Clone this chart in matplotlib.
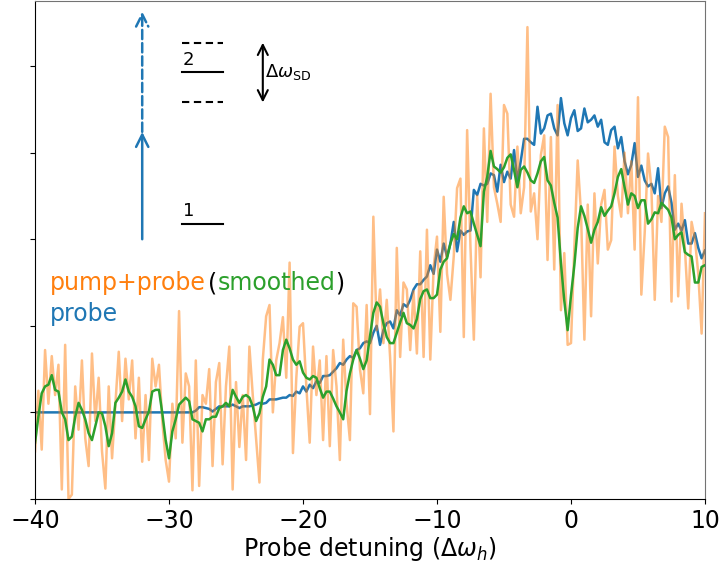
import numpy as np
import matplotlib
matplotlib.use("Agg")
import matplotlib.pyplot as plt

# probe detuning grid (units of the homogeneous width)
detuning = np.linspace(-40, 10, 201)

probe = [
    0.00, 0.00, 0.00, 0.00, 0.00, 0.00, 0.00, 0.00, 0.00, 0.00,
    0.00, 0.00, 0.00, 0.00, 0.00, 0.00, 0.00, 0.00, 0.00, 0.00,
    0.00, 0.00, 0.00, 0.00, 0.00, 0.00, 0.00, 0.00, 0.00, 0.00,
    0.00, 0.00, 0.00, 0.00, 0.00, 0.00, 0.00, 0.00, 0.00, 0.00,
    0.00, 0.00, 0.00, 0.00, 0.00, 0.00, 0.00, 0.00, 0.02, 0.06,
    0.06, 0.05, 0.04, 0.01, 0.04, 0.07, 0.07, 0.07, 0.07, 0.09,
    0.07, 0.05, 0.07, 0.07, 0.07, 0.08, 0.09, 0.11, 0.10, 0.11,
    0.15, 0.15, 0.15, 0.16, 0.17, 0.17, 0.20, 0.19, 0.24, 0.22,
    0.30, 0.24, 0.32, 0.28, 0.36, 0.34, 0.42, 0.42, 0.43, 0.47,
    0.51, 0.57, 0.55, 0.61, 0.65, 0.63, 0.72, 0.74, 0.80, 0.82,
    0.80, 0.92, 1.00, 0.78, 0.95, 1.03, 1.05, 0.97, 1.18, 1.12,
    1.25, 1.22, 1.30, 1.42, 1.48, 1.48, 1.53, 1.57, 1.70, 1.60,
    1.88, 1.74, 1.95, 1.80, 1.95, 2.20, 1.86, 2.10, 2.05, 2.09,
    2.10, 2.57, 2.51, 2.64, 2.62, 2.64, 2.76, 2.74, 2.55, 2.86,
    2.66, 2.78, 2.70, 3.03, 2.68, 2.90, 3.16, 3.16, 3.12, 3.09,
    3.53, 3.22, 3.28, 3.43, 3.45, 3.28, 3.20, 3.63, 3.34, 3.20,
    3.40, 3.49, 3.25, 3.28, 3.51, 3.35, 3.38, 3.43, 3.30, 3.38,
    3.12, 3.09, 3.26, 3.30, 3.05, 3.18, 2.90, 2.75, 2.86, 3.11,
    2.72, 2.85, 2.68, 2.61, 2.64, 2.53, 2.82, 2.36, 2.53, 2.61,
    2.42, 2.11, 2.18, 2.10, 2.22, 1.95, 1.95, 2.07, 1.90, 1.78,
    1.87,
]

pump_probe = [
    -0.45, 0.25, -0.43, 0.72, 0.10, 0.65, 0.20, 0.55, -0.89, 0.78,
    -1.00, -0.95, 0.30, -0.20, 0.60, -0.30, -0.62, 0.68, -0.10, 0.40,
    -0.45, -0.88, 0.30, -0.53, 0.10, 0.70, -0.10, 0.62, 0.15, 0.60,
    -0.30, 0.40, -0.57, 0.20, -0.55, 0.62, 0.30, 0.55, -0.10, -0.55,
    -0.80, 0.10, -0.30, 1.17, -0.35, 0.45, 0.30, -0.90, 0.60, -0.85,
    0.20, 0.10, 0.50, -0.62, 0.35, 0.57, -0.60, 0.30, 0.76, -0.89,
    0.35, -0.40, 0.20, -0.55, 0.76, 0.20, -0.30, -0.81, 0.61, 1.11,
    1.24, 0.00, 0.60, 0.80, 1.10, 0.40, 1.73, -0.47, 0.40, 0.99,
    1.03, 0.30, -0.35, 0.76, 0.20, 0.60, -0.32, 0.65, -0.39, 0.72,
    0.30, -0.55, 0.84, 0.10, -0.32, 1.26, 1.22, 0.50, 0.22, 1.24,
    -0.02, 2.26, 0.95, 1.42, 0.80, 1.30, 0.64, -0.22, 1.90, 0.64,
    1.50, 1.42, 0.72, 1.40, 0.68, 1.86, 0.64, 2.11, 0.61, 1.68,
    2.03, 0.93, 2.49, 1.60, 1.30, 1.80, 2.59, 2.70, 0.87, 3.26,
    1.90, 0.84, 2.50, 1.56, 3.28, 2.20, 3.68, 2.60, 2.41, 2.20,
    3.55, 3.45, 2.40, 2.26, 3.07, 2.30, 2.60, 4.45, 2.32, 2.53,
    2.00, 2.97, 3.20, 1.76, 3.18, 1.65, 3.55, 1.18, 1.84, 0.78,
    0.80, 1.90, 2.91, 2.30, 0.84, 2.40, 1.11, 2.53, 1.72, 2.40,
    2.57, 1.88, 1.99, 3.07, 2.50, 2.26, 3.00, 2.30, 2.90, 1.88,
    3.64, 1.36, 2.07, 2.99, 2.60, 1.30, 2.50, 2.20, 3.30, 3.18,
    1.28, 2.74, 1.34, 2.41, 1.90, 1.20, 2.20, 2.00, 1.60, 0.91,
    2.30,
]

smoothed = [
    -0.35, -0.05, 0.22, 0.30, 0.32, 0.43, 0.26, 0.24, 0.00, -0.08,
    -0.32, -0.28, -0.05, 0.11, 0.03, -0.08, -0.24, -0.32, -0.16, 0.00,
    -0.01, -0.16, -0.39, -0.24, 0.11, 0.17, 0.24, 0.38, 0.24, 0.18,
    0.07, -0.16, -0.18, -0.08, 0.01, 0.24, 0.26, 0.26, -0.01, -0.32,
    -0.53, -0.22, -0.08, 0.09, 0.13, 0.17, 0.13, -0.08, -0.10, -0.12,
    -0.22, -0.08, -0.08, -0.05, -0.05, 0.05, 0.07, 0.11, 0.07, 0.26,
    0.18, 0.11, 0.18, 0.20, 0.17, 0.07, -0.10, -0.01, 0.18, 0.30,
    0.61, 0.55, 0.43, 0.43, 0.72, 0.84, 0.74, 0.61, 0.55, 0.59,
    0.46, 0.40, 0.38, 0.42, 0.40, 0.28, 0.17, 0.24, 0.24, 0.16,
    0.07, 0.00, -0.08, 0.25, 0.45, 0.61, 0.72, 0.62, 0.50, 0.60,
    0.88, 1.15, 1.27, 1.22, 1.03, 0.87, 0.80, 0.80, 0.92, 1.04,
    1.15, 1.03, 1.01, 0.97, 1.08, 1.31, 1.40, 1.42, 1.32, 1.32,
    1.36, 1.65, 1.74, 1.78, 1.95, 2.06, 2.00, 2.25, 2.38, 2.30,
    2.32, 2.18, 2.05, 1.92, 2.55, 2.72, 3.02, 2.84, 2.81, 2.77,
    2.83, 2.94, 2.98, 2.80, 2.60, 2.80, 2.84, 2.77, 2.68, 2.65,
    2.76, 2.90, 2.95, 2.68, 2.62, 2.42, 2.25, 1.72, 1.29, 0.95,
    1.35, 1.70, 2.13, 2.38, 2.27, 2.12, 1.96, 2.11, 2.20, 2.37,
    2.27, 2.33, 2.38, 2.53, 2.72, 2.81, 2.60, 2.40, 2.53, 2.50,
    2.36, 2.45, 2.45, 2.18, 2.23, 2.31, 2.30, 2.42, 2.38, 2.34,
    2.25, 2.00, 2.05, 2.08, 1.85, 1.82, 1.80, 1.50, 1.50, 1.68,
    1.70,
]

# level scheme inset (data coords)
arrow_x = -32.0
arrow_y = [2.0, 3.24, 4.63]       # start, solid end, dashed end
level_x = [-29.05, -25.95]
level_y = {"1": 2.18, "2": 3.93}
sideband_y = [4.27, 3.58]
split_x = -23.0

fig = plt.figure(figsize=(7.19, 5.67), dpi=100)
ax = fig.add_axes([0.0487, 0.12, 0.9318, 0.878])

ax.plot(detuning, probe, color="#1f77b4", lw=1.8)
ax.plot(detuning, pump_probe, color="#ff7f0e", lw=1.8, alpha=0.5)
ax.plot(detuning, smoothed, color="#2ca02c", lw=1.8)

ax.set_xlim(-40, 10)
ax.set_ylim(-1, 4.75)
ax.set_yticks([-1, 0, 1, 2, 3, 4])
ax.set_yticklabels([])
ax.set_xticks([-40, -30, -20, -10, 0, 10])
ax.tick_params(axis="x", labelsize=17)
ax.set_xlabel(r"Probe detuning ($\Delta\omega_h$)", fontsize=17, labelpad=2)
for side in ["top", "right"]:
    ax.spines[side].set_color("0.45")

# transitions
ax.annotate("", xy=(arrow_x, arrow_y[1]), xytext=(arrow_x, arrow_y[0]),
            arrowprops=dict(arrowstyle="->", color="#1f77b4", lw=1.8,
                            mutation_scale=22, shrinkA=0, shrinkB=0))
ax.annotate("", xy=(arrow_x, arrow_y[2]), xytext=(arrow_x, arrow_y[1]),
            arrowprops=dict(arrowstyle="->", color="#1f77b4", lw=1.8,
                            linestyle="--", mutation_scale=22,
                            shrinkA=0, shrinkB=0))

for name, yv in level_y.items():
    ax.plot(level_x, [yv, yv], color="black", lw=1.5)
    ax.text(level_x[0] + 0.1, yv + 0.04, name, fontsize=13, va="bottom")
for yv in sideband_y:
    ax.plot(level_x, [yv, yv], color="black", lw=1.5, ls=(0, (3.5, 2.2)))

ax.annotate("", xy=(split_x, sideband_y[0]), xytext=(split_x, sideband_y[1]),
            arrowprops=dict(arrowstyle="<->", color="black", lw=1.5,
                            mutation_scale=18, shrinkA=0, shrinkB=0))
ax.text(split_x + 0.15, level_y["2"], r"$\Delta\omega_{\rm SD}$",
        fontsize=13, va="center")

# legend made of coloured words
t1 = ax.text(-38.9, 1.41, "pump+probe", color="#ff7f0e", fontsize=17)
t2 = ax.annotate("(", xy=(1, 0), xycoords=t1, xytext=(2, 0),
                 textcoords="offset points", va="bottom", fontsize=17)
t3 = ax.annotate("smoothed", xy=(1, 0), xycoords=t2, va="bottom",
                 color="#2ca02c", fontsize=17)
ax.annotate(")", xy=(1, 0), xycoords=t3, va="bottom", fontsize=17)
ax.text(-38.9, 1.06, "probe", color="#1f77b4", fontsize=17)

fig.savefig("out.png", dpi=100)
